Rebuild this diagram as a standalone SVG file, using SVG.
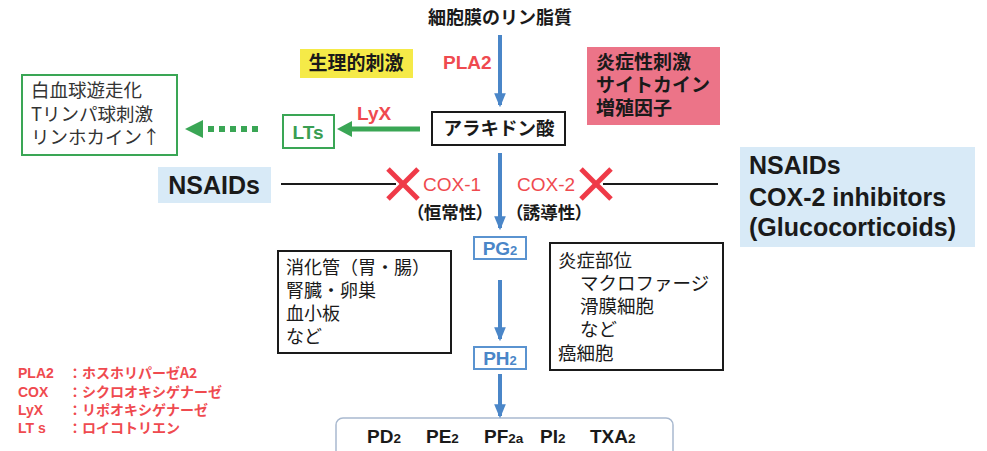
<svg xmlns="http://www.w3.org/2000/svg" width="987" height="451" viewBox="0 0 987 451">
<style>
.jp{font-family:"Noto Sans CJK JP","Liberation Sans",sans-serif;}
.lat{font-family:"Liberation Sans","Noto Sans CJK JP",sans-serif;}
.b{font-weight:bold;}
.dark{fill:#1a1a1a;}
.red{fill:#ef4a4f;}
.blue{fill:#4a86c8;}
.green{fill:#3a9e52;}
.palt{font-feature-settings:"palt";}
.blk{fill:#fff;stroke:#1a1a1a;stroke-width:2;}
.bbox{fill:#fff;stroke:#5a93d0;stroke-width:2;}
.gbox{fill:#fff;stroke:#3aa655;stroke-width:2;}
.barrow{stroke:#4a86c8;stroke-width:4;fill:none;marker-end:url(#ab);}
.xmark{stroke:#ef3a48;stroke-width:5;stroke-linecap:butt;}
</style>
<defs>
<marker id="ab" viewBox="0 0 12 10" refX="10" refY="5" markerWidth="3.5" markerHeight="3" orient="auto" markerUnits="strokeWidth">
<path d="M0,0 L12,5 L0,10 Z" fill="#4a86c8"/>
</marker>
</defs>
<rect width="987" height="451" fill="#fff"/>

<g id="title"><text class="jp b dark" x="500" y="24" font-size="18" text-anchor="middle">細胞膜のリン脂質</text></g>

<g id="physio"><rect x="300" y="49" width="113" height="29" fill="#f5ea48"/><text class="jp b dark" x="356" y="70" font-size="19" text-anchor="middle">生理的刺激</text></g>

<g id="inflam"><rect x="587" y="47" width="133" height="78" fill="#ec7488"/>
<text class="jp b dark" font-size="19"><tspan x="596" y="69">炎症性刺激</tspan><tspan x="596" y="92">サイトカイン</tspan><tspan x="596" y="115">増殖因子</tspan></text></g>

<g id="arachidonic"><rect class="blk" x="432" y="112" width="133" height="33"/><text class="jp b dark" x="499" y="135" font-size="18.5" text-anchor="middle">アラキドン酸</text></g>

<g id="lts"><rect class="gbox" x="283" y="115" width="51" height="33"/><text class="lat b green" x="308" y="139" font-size="19" text-anchor="middle">LTs</text></g>

<g id="effects"><rect class="gbox" x="22" y="75" width="155" height="80"/>
<text class="jp" fill="#333" font-size="18.5"><tspan x="31" y="97">白血球遊走化</tspan><tspan x="31" y="121">Tリンパ球刺激</tspan><tspan x="31" y="144">リンホカイン↑</tspan></text></g>

<g id="nsaids-left"><rect x="158" y="167" width="113" height="36" fill="#d8eaf7"/><text class="lat b dark" x="214" y="194" font-size="25" text-anchor="middle">NSAIDs</text></g>

<g id="nsaids-right"><rect x="740" y="147" width="235" height="100" fill="#d8eaf7"/>
<text class="lat b dark" font-size="25"><tspan x="749" y="174">NSAIDs</tspan><tspan x="749" y="206">COX-2 inhibitors</tspan><tspan x="749" y="236">(Glucocorticoids)</tspan></text></g>

<g id="cox1"><text class="lat red" x="423" y="191" font-size="19">COX-1</text><text class="jp b dark palt" x="450" y="219" font-size="17.5" text-anchor="middle">（恒常性）</text></g>
<g id="cox2"><text class="lat red" x="517" y="191" font-size="19">COX-2</text><text class="jp b dark palt" x="549" y="219" font-size="17.5" text-anchor="middle">（誘導性）</text></g>

<g id="pg2"><rect class="bbox" x="474" y="237" width="52" height="22"/><text class="lat b blue" x="500" y="255" font-size="19" text-anchor="middle">PG<tspan font-size="13">2</tspan></text></g>
<g id="ph2"><rect class="bbox" x="474" y="347" width="52" height="22"/><text class="lat b blue" x="500" y="365" font-size="19" text-anchor="middle">PH<tspan font-size="13">2</tspan></text></g>

<g id="cox1-sites"><rect class="blk" x="278" y="251" width="173" height="102"/>
<text class="jp dark" font-size="18"><tspan x="286" y="274">消化管（胃・腸）</tspan><tspan x="286" y="297">腎臓・卵巣</tspan><tspan x="286" y="320">血小板</tspan><tspan x="286" y="343">など</tspan></text></g>

<g id="cox2-sites"><rect class="blk" x="550" y="243" width="173" height="127"/>
<text class="jp dark" font-size="18.5"><tspan x="558" y="267">炎症部位</tspan><tspan x="580" y="290">マクロファージ</tspan><tspan x="580" y="313">滑膜細胞</tspan><tspan x="580" y="336">など</tspan><tspan x="558" y="360">癌細胞</tspan></text></g>

<g id="products"><rect x="336" y="418" width="337" height="40" rx="7" fill="#fff" stroke="#a9b9cf" stroke-width="1.5"/>
<text class="lat b dark" y="443" font-size="19"><tspan x="367">PD<tspan font-size="13.5">2</tspan></tspan><tspan x="426">PE<tspan font-size="13.5">2</tspan></tspan><tspan x="484">PF<tspan font-size="13.5">2a</tspan></tspan><tspan x="540">PI<tspan font-size="13.5">2</tspan></tspan><tspan x="590">TXA<tspan font-size="13.5">2</tspan></tspan></text></g>

<g id="legend" class="lat b red" font-size="14">
<text x="18" y="378">PLA2</text><text class="jp" x="68" y="378">：ホスホリパーゼA2</text>
<text x="18" y="397">COX</text><text class="jp" x="68" y="397">：シクロオキシゲナーゼ</text>
<text x="18" y="415">LyX</text><text class="jp" x="68" y="415">：リポオキシゲナーゼ</text>
<text x="18" y="433">LT s</text><text class="jp" x="68" y="433">：ロイコトリエン</text>
</g>

<g id="connectors">
<line class="barrow" x1="500" y1="35" x2="500" y2="105"/>
<text class="lat b red" x="443" y="69" font-size="19">PLA2</text>
<line class="barrow" x1="500" y1="153" x2="500" y2="228"/>
<line class="barrow" x1="500" y1="280" x2="500" y2="339"/>
<line class="barrow" x1="500" y1="374" x2="500" y2="416"/>
<line x1="420" y1="129" x2="350" y2="129" stroke="#3aa655" stroke-width="5"/>
<path d="M337,129 L352,121 L352,137 Z" fill="#3aa655"/>
<text class="lat b red" x="357" y="120" font-size="19">LyX</text>
<line x1="258" y1="129" x2="206" y2="129" stroke="#3aa655" stroke-width="6" stroke-dasharray="6,5"/>
<path d="M185,129 L203,120 L203,138 Z" fill="#3aa655"/>
<line x1="281" y1="184" x2="396" y2="184" stroke="#1a1a1a" stroke-width="2"/>
<line x1="603" y1="184" x2="718" y2="184" stroke="#1a1a1a" stroke-width="2"/>
<line class="xmark" x1="388" y1="169" x2="418" y2="199"/><line class="xmark" x1="418" y1="169" x2="388" y2="199"/>
<line class="xmark" x1="581" y1="169" x2="611" y2="199"/><line class="xmark" x1="611" y1="169" x2="581" y2="199"/>
</g>
</svg>
